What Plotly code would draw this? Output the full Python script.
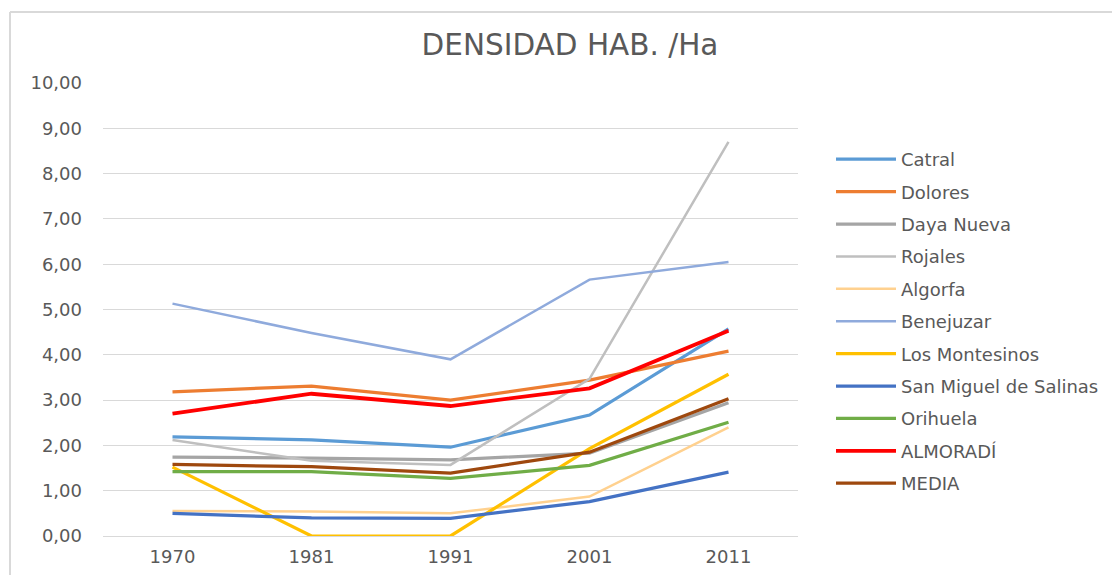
import plotly.graph_objects as go

years = ["1970", "1981", "1991", "2001", "2011"]

catral = [2.19, 2.12, 1.96, 2.67, 4.57]
dolores = [3.18, 3.31, 3.00, 3.44, 4.08]
daya_nueva = [1.74, 1.72, 1.68, 1.83, 2.94]
rojales = [2.12, 1.66, 1.57, 3.47, 8.70]
algorfa = [0.55, 0.54, 0.50, 0.87, 2.40]
benejuzar = [5.13, 4.48, 3.90, 5.66, 6.05]
los_montesinos = [1.52, 0.00, 0.00, 1.93, 3.57]
san_miguel = [0.50, 0.40, 0.39, 0.76, 1.41]
orihuela = [1.42, 1.42, 1.27, 1.56, 2.51]
almoradi = [2.70, 3.14, 2.87, 3.26, 4.53]
media = [1.58, 1.53, 1.39, 1.85, 3.03]

series = [
    ("Catral", catral, "#5B9BD5", 3.25),
    ("Dolores", dolores, "#ED7D31", 3.25),
    ("Daya Nueva", daya_nueva, "#A5A5A5", 3.25),
    ("Rojales", rojales, "#BFBFBF", 2.5),
    ("Algorfa", algorfa, "#FFD18F", 2.5),
    ("Benejuzar", benejuzar, "#8FAADC", 2.5),
    ("Los Montesinos", los_montesinos, "#FFC000", 3.25),
    ("San Miguel de Salinas", san_miguel, "#4472C4", 3.25),
    ("Orihuela", orihuela, "#70AD47", 3.25),
    ("ALMORADÍ", almoradi, "#FF0000", 3.75),
    ("MEDIA", media, "#9E480E", 3.25),
]

fig = go.Figure()
for name, vals, color, w in series:
    fig.add_trace(go.Scatter(
        x=years, y=vals, name=name, mode="lines",
        line=dict(color=color, width=w),
        legendgroup=name,
    ))

# page body has an 8px margin; compensate so the plot lands where the reference has it
OFF = 8
L, R, T, B = 103 - OFF, 1120 - 798, 83 - OFF, 39
W, H = 1120 - OFF, 575 - OFF
PW, PH = 798 - 103, 536 - 83

def px(xp):
    return (xp - 103) / PW

def py(yp):
    return (536 - yp) / PH

font_family = "DejaVu Sans, Open Sans, sans-serif"
txt = "#595959"
fig.update_layout(
    width=W, height=H,
    margin=dict(l=L, r=R, t=T, b=B, autoexpand=False),
    paper_bgcolor="white", plot_bgcolor="white",
    font=dict(family=font_family, color=txt, size=18),
    title=dict(text="DENSIDAD HAB. /Ha", x=(570 - OFF) / W, xanchor="center",
               y=1 - (45 - OFF) / H, yanchor="middle",
               font=dict(size=29.5, color=txt, family=font_family)),
    xaxis=dict(type="category", range=[-0.5, 4.5], showgrid=False,
               showline=False, zeroline=False, ticks="",
               automargin=False, ticklabelstandoff=8,
               tickfont=dict(size=18, color=txt)),
    yaxis=dict(range=[0, 10], dtick=1, tickformat=".2f",
               showgrid=True, gridcolor="#D9D9D9", gridwidth=1,
               zeroline=True, zerolinecolor="#D9D9D9", zerolinewidth=1,
               showline=False, ticks="",
               automargin=False, ticklabelstandoff=20,
               tickfont=dict(size=18, color=txt)),
    separators=",.",
    legend=dict(x=px(831), xanchor="left",
                y=py(141), yanchor="top",
                font=dict(size=18, color=txt),
                itemwidth=60, tracegroupgap=6,
                bgcolor="rgba(0,0,0,0)"),
    showlegend=True,
)

# outer chart border (top and left edges visible)
fig.add_shape(type="line", xref="paper", yref="paper",
              x0=px(10), x1=px(1125), y0=py(12), y1=py(12),
              line=dict(color="#D9D9D9", width=2))
fig.add_shape(type="line", xref="paper", yref="paper",
              x0=px(10), x1=px(10), y0=py(12), y1=py(580),
              line=dict(color="#D9D9D9", width=2))

fig.write_html("out.html")
